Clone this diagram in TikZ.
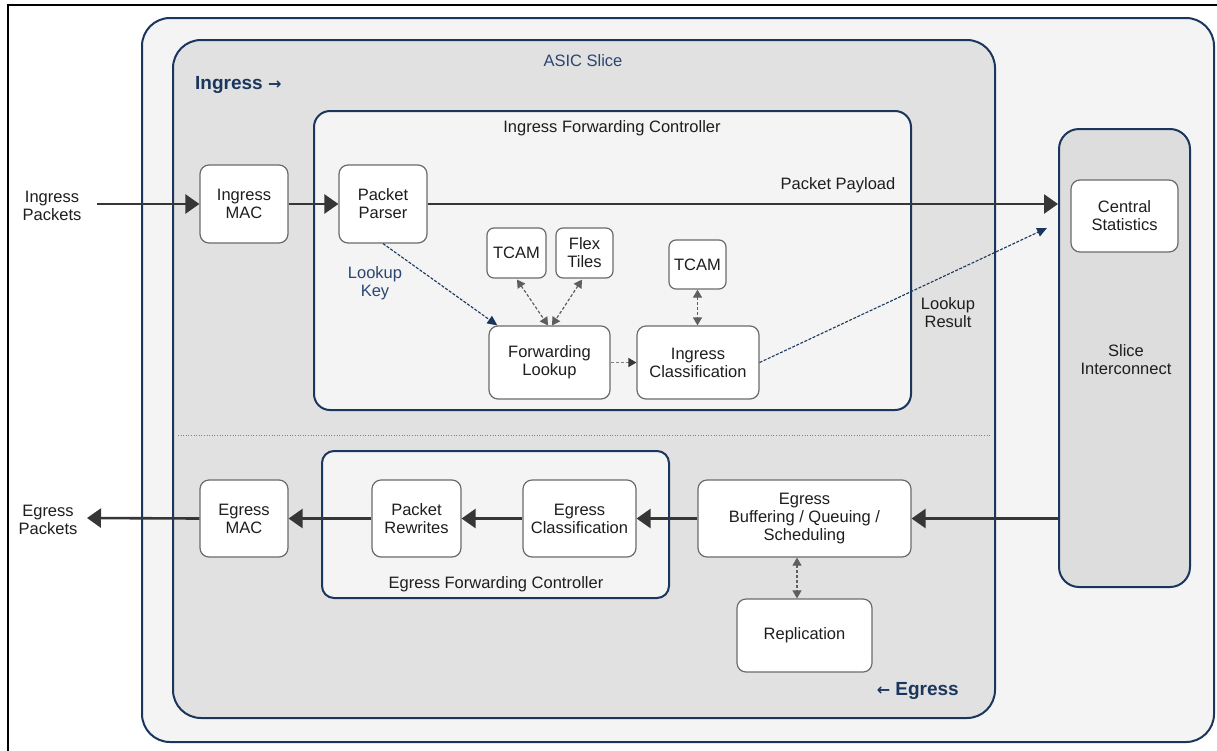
\documentclass[tikz,border=0pt]{standalone}
\usepackage{fontspec}
\setmainfont{Liberation Sans}
\newfontfamily\arrowfont{DejaVu Sans}
\usetikzlibrary{arrows.meta,calc}
\definecolor{navy}{HTML}{1B365D}
\definecolor{lbl}{HTML}{2B4670}
\definecolor{outerfill}{HTML}{F4F4F4}
\definecolor{asicfill}{HTML}{E1E1E1}
\definecolor{slicefill}{HTML}{DDDDDD}
\definecolor{boxline}{HTML}{6B6B6B}
\definecolor{flow}{HTML}{363636}
\definecolor{txt}{HTML}{1E1E1E}
\begin{document}
\begin{tikzpicture}[x=1pt,y=-1pt,
  every node/.style={font=\fontsize{16.5}{18}\selectfont, text=txt},
  blk/.style={draw=boxline, fill=white, line width=1.2pt, rounded corners=9pt, align=center, inner sep=0pt},
  container/.style={draw=navy, line width=2pt, inner sep=0pt},
  flowarr/.style={draw=flow, line width=2.6pt, -{Triangle[length=14pt,width=19pt]}},
  dashdbl/.style={draw=flow!80, line width=1.2pt, dash pattern=on 3pt off 2pt, {Triangle[length=8pt,width=9pt]}-{Triangle[length=8pt,width=9pt]}},
  dashone/.style={draw=gray, line width=1.2pt, dash pattern=on 3pt off 2pt, -{Triangle[length=8pt,width=9pt,color=flow]}},
  navyarr/.style={draw=navy, line width=1.1pt, dash pattern=on 3pt off 1.5pt, -{Triangle[length=10pt,width=9pt]}},
  txtlbl/.style={align=center, inner sep=0pt, yshift=-1.5pt}
]
\useasboundingbox (0,0) rectangle (1217,750);
\fill[white] (0,0) rectangle (1217,750);
% black frame
\draw[black, line width=2.5pt] (8,752) -- (8,5) -- (1220,5);

% containers
\node[container, fill=outerfill, rounded corners=28pt, minimum width=1072pt, minimum height=724pt] (outer) at (678,380) {};
\node[container, fill=asicfill, rounded corners=28pt, minimum width=822pt, minimum height=678pt] (asic) at (584,379) {};
\node[container, fill=outerfill, rounded corners=16pt, minimum width=597pt, minimum height=299pt] (ifc) at (612.5,260.5) {};
\node[container, fill=outerfill, rounded corners=12pt, minimum width=347pt, minimum height=147pt] (efc) at (495.5,524.5) {};
\node[container, fill=slicefill, rounded corners=20pt, minimum width=131pt, minimum height=458pt] (slice) at (1124.5,358) {};

% separator
\draw[gray, dotted, line width=0.6pt] (178,435) -- (990,435);

% labels
\node[txtlbl, text=lbl] (asiclbl) at (583,59) {ASIC Slice};
\node[txtlbl, anchor=west, text=navy, font=\fontsize{19}{21}\selectfont\bfseries] (inglbl) at (195,83) {Ingress {\arrowfont\bfseries\fontsize{16}{16}\selectfont →}};
\node[txtlbl, anchor=east, text=navy, font=\fontsize{19}{21}\selectfont\bfseries] (eglbl) at (959,689) {{\arrowfont\bfseries\fontsize{16}{16}\selectfont ←} Egress};
\node[txtlbl] (ifclbl) at (612,127) {Ingress Forwarding Controller};
\node[txtlbl] (efclbl) at (496,583) {Egress Forwarding Controller};
\node[txtlbl] (payload) at (838,184) {Packet Payload};
\node[txtlbl, text=lbl] (lkey) at (375,282) {Lookup\\Key};
\node[txtlbl] (lres) at (948,311) {Lookup\\Result};
\node[txtlbl] (inpk) at (52,204) {Ingress\\Packets};
\node[txtlbl] (egpk) at (48,518) {Egress\\Packets};
\node[txtlbl] (slicelbl) at (1126,358) {Slice\\Interconnect};

% blocks
\node[blk, minimum width=88pt, minimum height=78pt] (imac) at (244,204) {Ingress\\MAC};
\node[blk, minimum width=88pt, minimum height=78pt] (parser) at (383,204) {Packet\\Parser};
\node[blk, minimum width=59pt, minimum height=50pt, rounded corners=7pt] (tcam1) at (516.5,253) {TCAM};
\node[blk, minimum width=57pt, minimum height=50pt, rounded corners=7pt] (flex) at (584.5,253) {Flex\\Tiles};
\node[blk, minimum width=57pt, minimum height=49pt, rounded corners=7pt] (tcam2) at (697.5,264.5) {TCAM};
\node[blk, minimum width=121pt, minimum height=73pt] (flk) at (549.5,362.5) {Forwarding\\Lookup};
\node[blk, minimum width=122pt, minimum height=73pt] (icls) at (698,362.5) {Ingress\\Classification};
\node[blk, minimum width=107pt, minimum height=72pt] (cstat) at (1124.5,216) {Central\\Statistics};
\node[blk, minimum width=88pt, minimum height=77pt] (emac) at (244,518.5) {Egress\\MAC};
\node[blk, minimum width=89pt, minimum height=77pt] (prw) at (416.5,518.5) {Packet\\Rewrites};
\node[blk, minimum width=113pt, minimum height=77pt] (ecls) at (579.5,518.5) {Egress\\Classification};
\node[blk, minimum width=213pt, minimum height=77pt] (buf) at (804.5,518.5) {Egress\\Buffering / Queuing /\\Scheduling};
\node[blk, minimum width=135pt, minimum height=73pt] (repl) at (804.5,635.5) {Replication};

% coordinates
\coordinate (instart) at (97,204);
\coordinate (egend) at (87,518);
\coordinate (lrend) at (1047,228);

% main flows
\draw[flowarr] (instart) -- (imac.west);
\draw[flowarr] (imac.east) -- (parser.west);
\draw[flowarr] (parser.east) -- (parser.east -| slice.west);
\draw[flowarr] (slice.west |- buf.east) -- (buf.east);
\draw[flowarr] (buf.west) -- (ecls.east);
\draw[flowarr] (ecls.west) -- (prw.east);
\draw[flowarr] (prw.west) -- (emac.east);
\draw[flowarr] (emac.west) -- (egend);

% dashed navy
\draw[navyarr] (parser.south) -- ($(flk.north west)+(9,0)$);
\draw[navyarr] (icls.east) -- (lrend);

% dashed gray
\draw[dashdbl] ($(tcam1.south)+(0.5,1)$) -- ($(flk.north)+(-1.5,0)$);
\draw[dashdbl] ($(flex.south)+(-2.5,1)$) -- ($(flk.north)+(2.5,0)$);
\draw[dashdbl] (tcam2.south) -- (tcam2.south |- icls.north);
\draw[dashone] (flk.east) -- (icls.west);
\draw[dashdbl] ($(buf.south)+(-7.5,0)$) -- ($(repl.north)+(-7.5,0)$);
\end{tikzpicture}
\end{document}
